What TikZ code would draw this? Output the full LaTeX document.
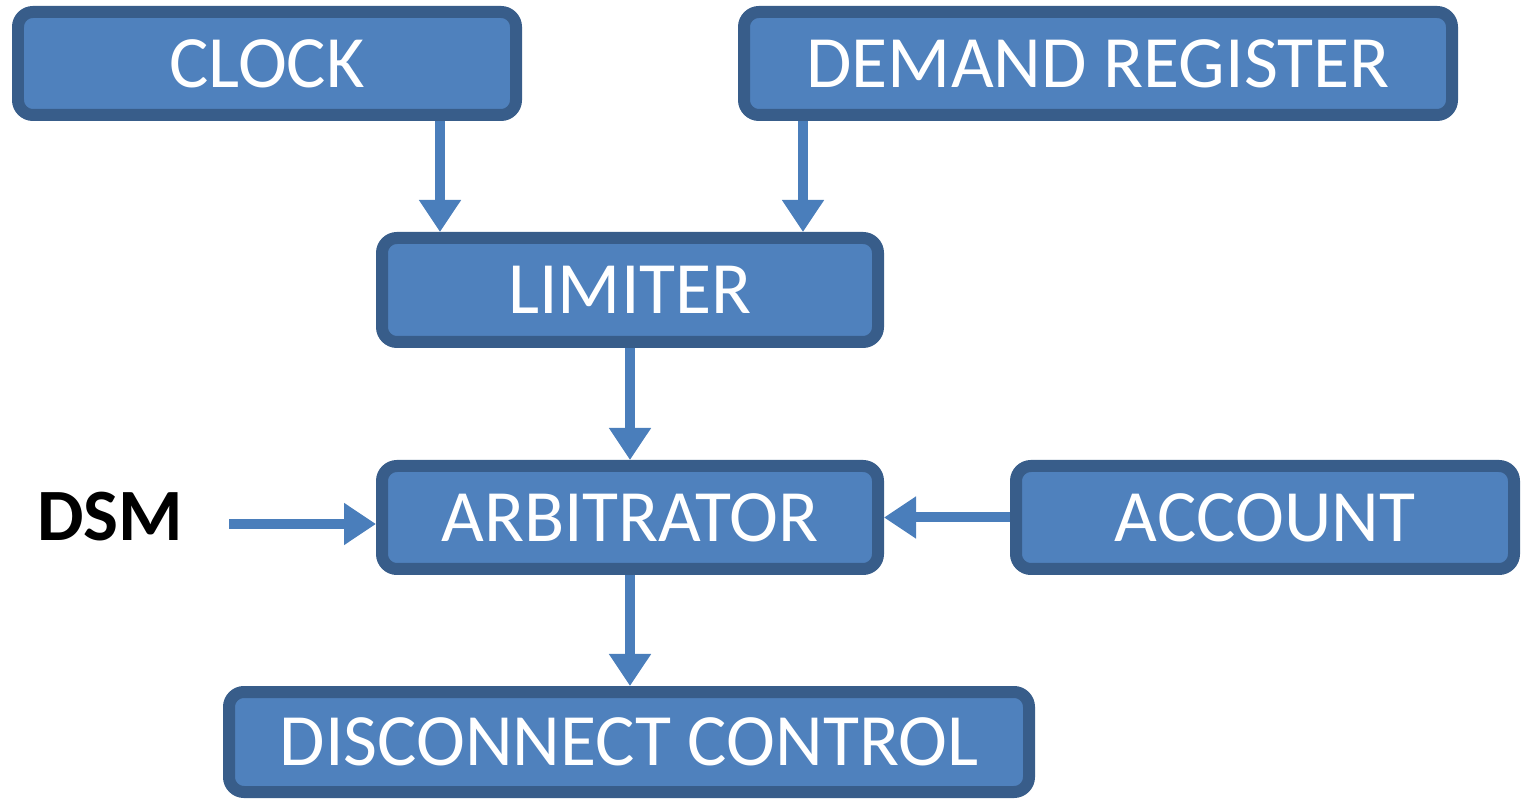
\documentclass[tikz,border=0pt]{standalone}
\usepackage{fontspec}
\setmainfont{Carlito}
\usetikzlibrary{arrows.meta}
\definecolor{boxfill}{HTML}{4F81BD}
\definecolor{boxedge}{HTML}{385D8A}
\definecolor{flowcol}{HTML}{4A7EBB}
\begin{document}
\begin{tikzpicture}[
    block/.style={draw=boxedge, fill=boxfill, line width=0.12cm, rounded corners=0.15cm,
        minimum height=1.03cm, text=white, font=\fontsize{21}{25}\selectfont},
    flow/.style={draw=flowcol, line width=0.1cm,
        -{Triangle[width=0.4cm, length=0.32cm]}}
]
    \useasboundingbox (0,0) rectangle (15.21,-8.00);

    % Bloques
    \node[block, minimum width=4.98cm] (clock) at (2.67, -0.635) {CLOCK};
    \node[block, minimum width=7.08cm] (demand) at (10.98, -0.635) {DEMAND REGISTER};
    \node[block, minimum width=4.96cm, minimum height=1.04cm] (limiter) at (6.30, -2.90) {LIMITER};
    \node[block, minimum width=4.96cm] (arbitrator) at (6.30, -5.175) {ARBITRATOR};
    \node[block, minimum width=4.98cm] (account) at (12.65, -5.175) {ACCOUNT};
    \node[block, minimum width=8.00cm, minimum height=1.00cm] (disconnect) at (6.29, -7.42) {DISCONNECT CONTROL};

    \node[font=\fontsize{21}{25}\selectfont\bfseries] (dsm) at (1.10, -5.17) {DSM};
    \coordinate (dsmout) at (2.29, -5.24);

    % Flechas
    \draw[flow] ([xshift=1.73cm]clock.south) -- ([xshift=1.73cm]clock.south |- limiter.north);
    \draw[flow] ([xshift=-2.95cm]demand.south) -- ([xshift=-2.95cm]demand.south |- limiter.north);
    \draw[flow] (limiter.south) -- (limiter.south |- arbitrator.north);
    \draw[flow] (dsmout) -- (dsmout -| arbitrator.west);
    \draw[flow] (account.west) -- (arbitrator.east);
    \draw[flow] (arbitrator.south) -- (arbitrator.south |- disconnect.north);
\end{tikzpicture}
\end{document}
